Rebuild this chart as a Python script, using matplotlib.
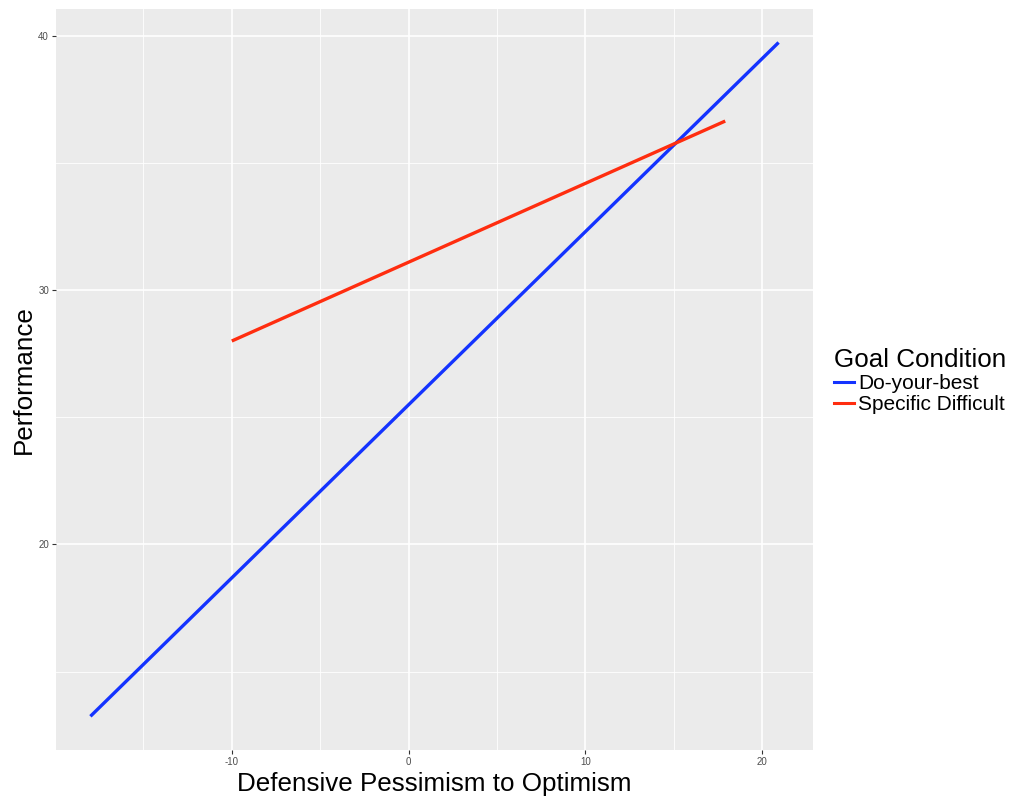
import matplotlib
matplotlib.use("Agg")
import matplotlib.pyplot as plt
from matplotlib.lines import Line2D

plt.rcParams['font.family'] = ['Liberation Sans', 'DejaVu Sans']

# Data (line endpoints)
conditions = ["Do-your-best", "Specific Difficult"]
colors = ["#1433ff", "#ff2d0f"]
dyb_x = [-18.0, 20.94]
dyb_y = [13.24, 39.74]
sd_x = [-10.0, 17.92]
sd_y = [28.0, 36.65]

x_major = [-10, 0, 10, 20]
x_minor = [-15, -5, 5, 15]
y_major = [20, 30, 40]
y_minor = [15, 25, 35]

W, H = 1011, 797
fig = plt.figure(figsize=(W / 100, H / 100), dpi=100)
L, R, T, B = 56, 813, 8.8, 750
ax = fig.add_axes([L / W, 1 - B / H, (R - L) / W, (B - T) / H])
ax.set_facecolor("#ebebeb")

allx = dyb_x + sd_x
ally = dyb_y + sd_y
sx = max(allx) - min(allx)
sy = max(ally) - min(ally)
ax.set_xlim(min(allx) - 0.05 * sx, max(allx) + 0.05 * sx)
ax.set_ylim(min(ally) - 0.05 * sy, max(ally) + 0.05 * sy)

for v in x_minor:
    ax.axvline(v, color="white", lw=0.6, zorder=0.5)
for v in y_minor:
    ax.axhline(v, color="white", lw=0.6, zorder=0.5)
for v in x_major:
    ax.axvline(v, color="white", lw=1.2, zorder=0.6)
for v in y_major:
    ax.axhline(v, color="white", lw=1.2, zorder=0.6)

ax.plot(dyb_x, dyb_y, color=colors[0], lw=2.4, solid_capstyle="butt", zorder=2)
ax.plot(sd_x, sd_y, color=colors[1], lw=2.4, solid_capstyle="butt", zorder=2)

ax.set_xticks(x_major)
ax.set_yticks(y_major)
ax.set_xticklabels([str(v) for v in x_major])
ax.set_yticklabels([str(v) for v in y_major])
ax.tick_params(axis="both", length=3, width=0.8, color="#333333",
               labelsize=7, labelcolor="#4d4d4d", pad=2)
for s in ax.spines.values():
    s.set_visible(False)

ax.set_xlabel("Defensive Pessimism to Optimism", fontsize=18.7, labelpad=4)
ax.set_ylabel("Performance", fontsize=18.7, labelpad=2)

handles = [Line2D([], [], color=c, lw=2.2) for c in colors]
leg = fig.legend(handles, conditions, title="Goal Condition",
                 loc="center left", bbox_to_anchor=(826 / W, 1 - 381 / H),
                 frameon=False, fontsize=15.0, title_fontsize=18.7,
                 handlelength=0.95, handletextpad=0.2, labelspacing=0.1,
                 borderaxespad=0, alignment="left")

fig.savefig("out.png", dpi=100)
